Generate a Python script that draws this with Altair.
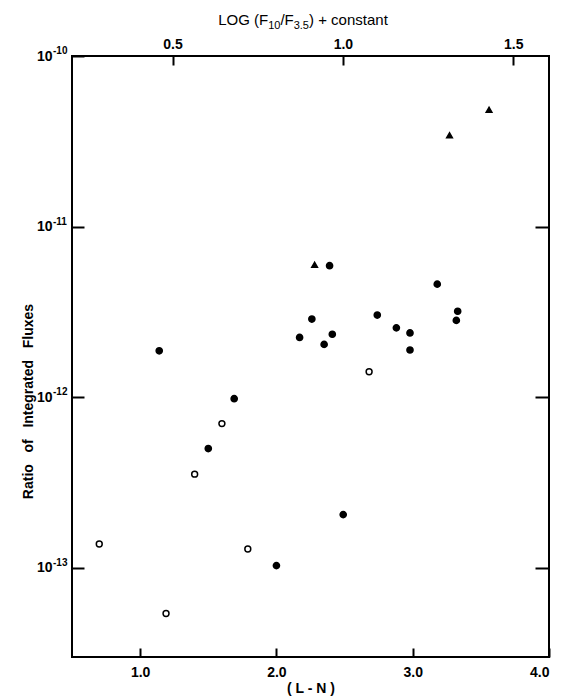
import altair as alt
import pandas as pd

# ---- data ----
filled_x = [1.14, 1.69, 1.50, 2.00, 2.17, 2.39, 3.18, 2.26, 2.74, 3.33, 3.32, 2.41, 2.35, 2.88, 2.98, 2.98, 2.49]
filled_y = [1.87e-12, 9.8e-13, 5.0e-13, 1.03e-13, 2.24e-12, 5.9e-12, 4.6e-12, 2.87e-12, 3.03e-12,
            3.19e-12, 2.82e-12, 2.34e-12, 2.04e-12, 2.55e-12, 2.38e-12, 1.89e-12, 2.05e-13]
open_x = [0.70, 1.19, 1.40, 1.60, 1.79, 2.68]
open_y = [1.38e-13, 5.4e-14, 3.54e-13, 7.0e-13, 1.29e-13, 1.41e-12]
tri_x = [2.28, 3.27, 3.56]
tri_y = [5.97e-12, 3.43e-11, 4.84e-11]

kinds = ["filled", "open", "triangle"]
bottom_ticks = [1.0, 2.0, 3.0, 4.0]
top_ticks = [0.5, 1.0, 1.5]
y_ticks = [1e-13, 1e-12, 1e-11, 1e-10]
y_exponents = ["-13", "-12", "-11", "-10"]
right_ticks = [1e-13, 1e-12, 1e-11]

x_title = "( L - N )"
y_title = "Ratio\u00a0\u00a0\u00a0of\u00a0\u00a0\u00a0Integrated\u00a0\u00a0\u00a0Fluxes"
# top title pieces: (text, is_subscript)
top_title_parts = [("LOG (F", False), ("10", True), ("/F", False), ("3.5", True), (") + constant", False)]

FONT = "Liberation Sans"
MAIN_SIZE = 15
SUB_SIZE = 11

# Helvetica/Liberation Sans advance widths (per 1000 em) for layout of the top title
HW = {"L": 556, "O": 778, "G": 778, " ": 278, "(": 333, ")": 333, "F": 611, "/": 278, ".": 278,
      "+": 584, "c": 500, "o": 556, "n": 556, "s": 500, "t": 278, "a": 556}
for d in "0123456789":
    HW[d] = 556


def text_width(s, size):
    return sum(HW.get(ch, 556) for ch in s) * size / 1000.0


pts = pd.DataFrame({
    "ln": filled_x + open_x + tri_x,
    "ratio": filled_y + open_y + tri_y,
    "kind": ["filled"] * len(filled_x) + ["open"] * len(open_x) + ["triangle"] * len(tri_x),
})

W, H = 477, 601
yscale = alt.Scale(type="log", domain=[3.0e-14, 1e-10], nice=False)

points = alt.Chart(pts).mark_point(filled=True, stroke="black", strokeWidth=1.5, opacity=1).encode(
    x=alt.X("ln:Q",
            scale=alt.Scale(domain=[0.5, 4.0], nice=False, zero=False),
            axis=alt.Axis(orient="bottom", values=bottom_ticks, format=".1f",
                          tickSize=9, offset=-9, domain=False, tickWidth=2,
                          labelPadding=8, title=x_title, titleY=40,
                          titleBaseline="middle")),
    y=alt.Y("ratio:Q", scale=yscale,
            axis=alt.Axis(orient="left", values=y_ticks, labelExpr="'10'",
                          tickSize=12, offset=-12, domain=False, tickWidth=2,
                          labelPadding=20, title=y_title, titleX=-56, titleY=345,
                          titleBaseline="middle", titleAngle=270)),
    shape=alt.Shape("kind:N", scale=alt.Scale(domain=kinds, range=["circle", "circle", "triangle-up"]), legend=None),
    fill=alt.Fill("kind:N", scale=alt.Scale(domain=kinds, range=["black", "white", "black"]), legend=None),
    size=alt.Size("kind:N", scale=alt.Scale(domain=kinds, range=[38, 32, 44]), legend=None),
)

# exponents of the left-axis labels (superscripts)
exponents = alt.Chart(pd.DataFrame({"v": y_ticks, "e": y_exponents})).mark_text(
    align="left", baseline="middle", dx=-19, dy=-5, fontSize=10, fontWeight="bold", font=FONT, color="black"
).encode(
    x=alt.value(0),
    y=alt.Y("v:Q", scale=yscale, axis=None),
    text="e:N",
)

top_layer = alt.Chart(pd.DataFrame({"top": top_ticks})).mark_point(opacity=0).encode(
    x=alt.X("top:Q",
            scale=alt.Scale(domain=[0.205, 1.605], nice=False, zero=False),
            axis=alt.Axis(orient="top", values=top_ticks, format=".1f",
                          tickSize=9, offset=-9, domain=False, tickWidth=2,
                          labelPadding=5, title=None))
)

right_layer = alt.Chart(pd.DataFrame({"r": right_ticks})).mark_point(opacity=0).encode(
    y=alt.Y("r:Q", scale=yscale,
            axis=alt.Axis(orient="right", values=right_ticks, labels=False,
                          tickSize=14, offset=-14, domain=False, tickWidth=2, title=None))
)

# top title assembled from pieces so that subscripts are properly sized
widths = [text_width(t, SUB_SIZE if sub else MAIN_SIZE) for t, sub in top_title_parts]
total = sum(widths)
center_x = 231
baseline_y = -31
title_layers = []
cur = center_x - total / 2
for (t, sub), w in zip(top_title_parts, widths):
    title_layers.append(
        alt.Chart(pd.DataFrame({"t": [t]})).mark_text(
            align="left", baseline="alphabetic", font=FONT, color="black",
            fontSize=SUB_SIZE if sub else MAIN_SIZE, fontWeight="normal",
        ).encode(x=alt.value(round(cur, 1)), y=alt.value(baseline_y + (4 if sub else 0)), text="t:N")
    )
    cur += w

chart = alt.layer(points, exponents, top_layer, right_layer, *title_layers).resolve_scale(
    x="independent", y="independent"
).properties(
    width=W, height=H, autosize="none",
    padding={"left": 64, "top": 48, "right": 10, "bottom": 42},
    background="white",
).configure_view(
    stroke="black", strokeWidth=2
).configure_axis(
    grid=False, tickColor="black", labelColor="black", titleColor="black",
    labelFont=FONT, titleFont=FONT, labelFontSize=14, titleFontSize=14,
    labelFontWeight="bold", titleFontWeight="bold",
)

chart.save("out.html", embed_options={"renderer": "svg", "actions": False})
